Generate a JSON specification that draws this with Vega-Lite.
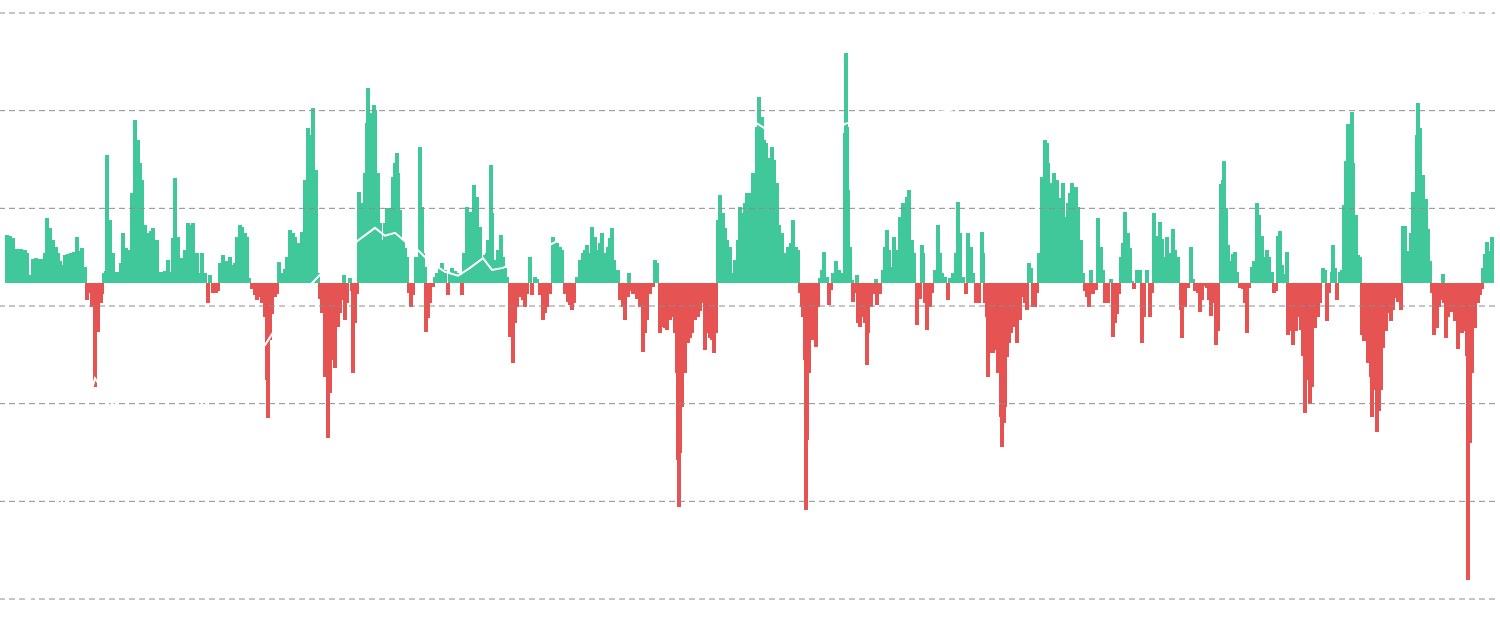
{
  "$schema": "https://vega.github.io/schema/vega-lite/v6.json",
  "width": 1495,
  "height": 633,
  "padding": 0,
  "autosize": {"type": "none"},
  "background": "white",
  "config": {"view": {"stroke": null}},
  "datasets": {
    "flow": [
      {"t":7,"v":48},{"t":10,"v":47},{"t":13,"v":45},{"t":17,"v":34},{"t":21,"v":34},{"t":25,"v":33},{"t":27,"v":30},{"t":29,"v":8},{"t":31,"v":5},{"t":33,"v":24},{"t":36,"v":25},{"t":39,"v":24},{"t":42,"v":24},{"t":45,"v":30},{"t":47,"v":65},{"t":50,"v":55},{"t":53,"v":43},{"t":56,"v":36},{"t":58,"v":30},{"t":60,"v":22},{"t":62,"v":18},{"t":65,"v":28},{"t":68,"v":29},{"t":71,"v":30},{"t":74,"v":31},{"t":77,"v":46},{"t":79,"v":32},{"t":82,"v":35},{"t":85,"v":16},{"t":87,"v":-17},{"t":89,"v":-10},{"t":92,"v":-24},{"t":95,"v":-104},{"t":98,"v":-49},{"t":101,"v":-20},{"t":102,"v":-11},{"t":104,"v":10},{"t":106,"v":12},{"t":107,"v":128},{"t":110,"v":63},{"t":113,"v":30},{"t":116,"v":11},{"t":119,"v":11},{"t":121,"v":20},{"t":123,"v":50},{"t":126,"v":35},{"t":129,"v":33},{"t":132,"v":90},{"t":135,"v":163},{"t":138,"v":143},{"t":140,"v":120},{"t":142,"v":103},{"t":145,"v":58},{"t":148,"v":50},{"t":151,"v":52},{"t":153,"v":55},{"t":157,"v":43},{"t":159,"v":11},{"t":162,"v":11},{"t":165,"v":12},{"t":168,"v":23},{"t":170,"v":11},{"t":173,"v":45},{"t":175,"v":105},{"t":178,"v":46},{"t":182,"v":25},{"t":185,"v":33},{"t":188,"v":60},{"t":191,"v":58},{"t":193,"v":60},{"t":197,"v":30},{"t":200,"v":10},{"t":202,"v":30},{"t":205,"v":10},{"t":208,"v":-20},{"t":210,"v":8},{"t":213,"v":-10},{"t":216,"v":-10},{"t":218,"v":-8},{"t":220,"v":20},{"t":223,"v":28},{"t":226,"v":22},{"t":230,"v":26},{"t":233,"v":18},{"t":235,"v":20},{"t":237,"v":46},{"t":240,"v":58},{"t":242,"v":56},{"t":245,"v":50},{"t":247,"v":46},{"t":249,"v":5},{"t":252,"v":-6},{"t":255,"v":-12},{"t":257,"v":-17},{"t":260,"v":-14},{"t":262,"v":-20},{"t":265,"v":-34},{"t":267,"v":-97},{"t":268,"v":-135},{"t":270,"v":-57},{"t":272,"v":-31},{"t":275,"v":-14},{"t":277,"v":-11},{"t":279,"v":21},{"t":282,"v":10},{"t":285,"v":14},{"t":287,"v":26},{"t":290,"v":53},{"t":293,"v":50},{"t":295,"v":46},{"t":298,"v":40},{"t":302,"v":51},{"t":305,"v":103},{"t":308,"v":155},{"t":310,"v":148},{"t":312,"v":143},{"t":313,"v":175},{"t":316,"v":113},{"t":318,"v":10},{"t":320,"v":-16},{"t":322,"v":-30},{"t":325,"v":-94},{"t":328,"v":-155},{"t":330,"v":-110},{"t":333,"v":-77},{"t":335,"v":-85},{"t":338,"v":-44},{"t":340,"v":-30},{"t":342,"v":-17},{"t":344,"v":8},{"t":345,"v":-37},{"t":347,"v":-20},{"t":350,"v":5},{"t":352,"v":-8},{"t":353,"v":-90},{"t":355,"v":-40},{"t":357,"v":-11},{"t":359,"v":91},{"t":361,"v":80},{"t":363,"v":70},{"t":365,"v":110},{"t":367,"v":160},{"t":368,"v":195},{"t":370,"v":170},{"t":372,"v":146},{"t":374,"v":178},{"t":375,"v":173},{"t":378,"v":110},{"t":380,"v":60},{"t":382,"v":43},{"t":383,"v":36},{"t":385,"v":60},{"t":387,"v":75},{"t":390,"v":75},{"t":393,"v":106},{"t":395,"v":120},{"t":397,"v":130},{"t":398,"v":110},{"t":400,"v":73},{"t":403,"v":43},{"t":405,"v":35},{"t":407,"v":26},{"t":409,"v":-10},{"t":411,"v":-24},{"t":413,"v":-12},{"t":416,"v":26},{"t":418,"v":26},{"t":420,"v":136},{"t":422,"v":76},{"t":423,"v":30},{"t":425,"v":16},{"t":426,"v":-49},{"t":428,"v":-35},{"t":430,"v":-20},{"t":433,"v":-4},{"t":435,"v":6},{"t":437,"v":10},{"t":440,"v":15},{"t":442,"v":20},{"t":445,"v":13},{"t":448,"v":-12},{"t":450,"v":10},{"t":452,"v":15},{"t":455,"v":12},{"t":457,"v":10},{"t":460,"v":8},{"t":462,"v":-12},{"t":464,"v":30},{"t":467,"v":76},{"t":470,"v":71},{"t":472,"v":43},{"t":474,"v":98},{"t":477,"v":86},{"t":480,"v":56},{"t":483,"v":26},{"t":485,"v":28},{"t":487,"v":30},{"t":488,"v":43},{"t":491,"v":118},{"t":492,"v":70},{"t":495,"v":23},{"t":498,"v":33},{"t":501,"v":48},{"t":503,"v":26},{"t":505,"v":15},{"t":507,"v":6},{"t":510,"v":-54},{"t":513,"v":-80},{"t":515,"v":-40},{"t":517,"v":-24},{"t":520,"v":-14},{"t":523,"v":-17},{"t":525,"v":-24},{"t":527,"v":-11},{"t":530,"v":26},{"t":532,"v":-12},{"t":535,"v":6},{"t":537,"v":4},{"t":540,"v":-12},{"t":543,"v":-37},{"t":545,"v":-30},{"t":547,"v":-24},{"t":550,"v":-11},{"t":553,"v":46},{"t":555,"v":42},{"t":557,"v":40},{"t":560,"v":36},{"t":562,"v":33},{"t":565,"v":-11},{"t":568,"v":-19},{"t":570,"v":-22},{"t":572,"v":-27},{"t":574,"v":-20},{"t":577,"v":6},{"t":580,"v":23},{"t":583,"v":30},{"t":585,"v":33},{"t":587,"v":38},{"t":590,"v":30},{"t":592,"v":56},{"t":595,"v":46},{"t":598,"v":33},{"t":600,"v":40},{"t":602,"v":50},{"t":605,"v":30},{"t":608,"v":36},{"t":610,"v":45},{"t":612,"v":55},{"t":614,"v":23},{"t":616,"v":3},{"t":618,"v":13},{"t":620,"v":-17},{"t":623,"v":-24},{"t":625,"v":-37},{"t":628,"v":-14},{"t":629,"v":10},{"t":631,"v":-8},{"t":633,"v":-11},{"t":637,"v":-16},{"t":640,"v":-24},{"t":643,"v":-69},{"t":645,"v":-50},{"t":647,"v":-37},{"t":650,"v":-11},{"t":653,"v":-4},{"t":655,"v":23},{"t":657,"v":20},{"t":660,"v":-50},{"t":663,"v":-44},{"t":665,"v":-45},{"t":667,"v":-47},{"t":670,"v":-37},{"t":673,"v":-34},{"t":675,"v":-50},{"t":677,"v":-90},{"t":678,"v":-177},{"t":679,"v":-224},{"t":680,"v":-170},{"t":682,"v":-124},{"t":685,"v":-90},{"t":688,"v":-60},{"t":690,"v":-55},{"t":692,"v":-50},{"t":695,"v":-37},{"t":698,"v":-34},{"t":700,"v":-28},{"t":702,"v":-20},{"t":705,"v":-67},{"t":708,"v":-50},{"t":710,"v":-55},{"t":712,"v":-57},{"t":714,"v":-70},{"t":716,"v":-50},{"t":718,"v":63},{"t":720,"v":88},{"t":723,"v":70},{"t":725,"v":55},{"t":727,"v":43},{"t":730,"v":36},{"t":732,"v":10},{"t":735,"v":23},{"t":738,"v":43},{"t":740,"v":76},{"t":743,"v":70},{"t":745,"v":80},{"t":747,"v":90},{"t":749,"v":86},{"t":751,"v":90},{"t":753,"v":110},{"t":755,"v":110},{"t":757,"v":156},{"t":759,"v":186},{"t":762,"v":166},{"t":764,"v":143},{"t":766,"v":140},{"t":768,"v":116},{"t":770,"v":125},{"t":772,"v":136},{"t":774,"v":123},{"t":777,"v":100},{"t":779,"v":58},{"t":782,"v":50},{"t":785,"v":30},{"t":788,"v":36},{"t":791,"v":40},{"t":793,"v":63},{"t":796,"v":36},{"t":798,"v":33},{"t":800,"v":-10},{"t":802,"v":-24},{"t":803,"v":-34},{"t":805,"v":-77},{"t":806,"v":-227},{"t":807,"v":-157},{"t":809,"v":-90},{"t":812,"v":-57},{"t":814,"v":-34},{"t":816,"v":-64},{"t":818,"v":-24},{"t":820,"v":5},{"t":822,"v":13},{"t":824,"v":31},{"t":827,"v":6},{"t":829,"v":-22},{"t":831,"v":-7},{"t":833,"v":10},{"t":836,"v":22},{"t":839,"v":13},{"t":842,"v":10},{"t":845,"v":150},{"t":846,"v":230},{"t":847,"v":156},{"t":848,"v":93},{"t":850,"v":36},{"t":852,"v":3},{"t":853,"v":-19},{"t":855,"v":-10},{"t":857,"v":8},{"t":858,"v":-40},{"t":860,"v":-44},{"t":863,"v":-34},{"t":865,"v":-40},{"t":867,"v":-82},{"t":868,"v":-50},{"t":871,"v":-24},{"t":873,"v":-11},{"t":876,"v":4},{"t":877,"v":-22},{"t":880,"v":-11},{"t":883,"v":13},{"t":885,"v":36},{"t":887,"v":53},{"t":889,"v":33},{"t":892,"v":16},{"t":894,"v":46},{"t":897,"v":33},{"t":900,"v":66},{"t":903,"v":80},{"t":905,"v":66},{"t":907,"v":86},{"t":909,"v":93},{"t":912,"v":43},{"t":914,"v":30},{"t":917,"v":-42},{"t":920,"v":-16},{"t":922,"v":38},{"t":923,"v":30},{"t":925,"v":-20},{"t":927,"v":-47},{"t":930,"v":-24},{"t":932,"v":-10},{"t":935,"v":13},{"t":938,"v":58},{"t":940,"v":30},{"t":942,"v":10},{"t":945,"v":6},{"t":948,"v":-17},{"t":950,"v":5},{"t":953,"v":10},{"t":956,"v":30},{"t":958,"v":81},{"t":960,"v":50},{"t":963,"v":6},{"t":966,"v":-11},{"t":968,"v":50},{"t":971,"v":36},{"t":973,"v":10},{"t":976,"v":-20},{"t":979,"v":-20},{"t":982,"v":51},{"t":983,"v":30},{"t":985,"v":-20},{"t":987,"v":-34},{"t":988,"v":-94},{"t":991,"v":-70},{"t":993,"v":-70},{"t":995,"v":-67},{"t":998,"v":-90},{"t":1001,"v":-134},{"t":1002,"v":-164},{"t":1004,"v":-140},{"t":1005,"v":-124},{"t":1007,"v":-74},{"t":1009,"v":-60},{"t":1011,"v":-50},{"t":1014,"v":-44},{"t":1017,"v":-60},{"t":1020,"v":-37},{"t":1023,"v":-14},{"t":1025,"v":-20},{"t":1027,"v":-27},{"t":1029,"v":20},{"t":1031,"v":15},{"t":1033,"v":-24},{"t":1035,"v":-24},{"t":1037,"v":-10},{"t":1039,"v":30},{"t":1042,"v":106},{"t":1045,"v":143},{"t":1047,"v":140},{"t":1048,"v":120},{"t":1050,"v":100},{"t":1052,"v":93},{"t":1054,"v":110},{"t":1057,"v":103},{"t":1059,"v":66},{"t":1061,"v":85},{"t":1063,"v":100},{"t":1065,"v":66},{"t":1068,"v":80},{"t":1070,"v":90},{"t":1072,"v":100},{"t":1074,"v":70},{"t":1076,"v":96},{"t":1078,"v":76},{"t":1081,"v":43},{"t":1083,"v":10},{"t":1085,"v":-8},{"t":1087,"v":-14},{"t":1089,"v":-24},{"t":1091,"v":13},{"t":1093,"v":-11},{"t":1096,"v":-7},{"t":1098,"v":65},{"t":1101,"v":36},{"t":1103,"v":13},{"t":1105,"v":-20},{"t":1108,"v":-20},{"t":1111,"v":4},{"t":1113,"v":-54},{"t":1115,"v":-40},{"t":1117,"v":-31},{"t":1119,"v":-11},{"t":1121,"v":26},{"t":1123,"v":40},{"t":1125,"v":71},{"t":1128,"v":50},{"t":1130,"v":35},{"t":1132,"v":2},{"t":1134,"v":-6},{"t":1137,"v":13},{"t":1140,"v":13},{"t":1142,"v":-60},{"t":1144,"v":-34},{"t":1147,"v":13},{"t":1150,"v":-34},{"t":1152,"v":-10},{"t":1154,"v":70},{"t":1157,"v":47},{"t":1160,"v":61},{"t":1162,"v":44},{"t":1165,"v":26},{"t":1167,"v":46},{"t":1170,"v":30},{"t":1173,"v":54},{"t":1175,"v":33},{"t":1178,"v":26},{"t":1181,"v":-27},{"t":1182,"v":-55},{"t":1185,"v":-24},{"t":1188,"v":-5},{"t":1191,"v":36},{"t":1193,"v":4},{"t":1195,"v":-8},{"t":1198,"v":-10},{"t":1200,"v":-29},{"t":1202,"v":-17},{"t":1205,"v":-3},{"t":1207,"v":-5},{"t":1209,"v":-17},{"t":1211,"v":-33},{"t":1213,"v":-20},{"t":1216,"v":-62},{"t":1218,"v":-48},{"t":1221,"v":99},{"t":1223,"v":103},{"t":1224,"v":122},{"t":1226,"v":75},{"t":1228,"v":38},{"t":1231,"v":22},{"t":1233,"v":29},{"t":1235,"v":31},{"t":1237,"v":11},{"t":1240,"v":-5},{"t":1243,"v":-6},{"t":1245,"v":-20},{"t":1247,"v":-50},{"t":1249,"v":-5},{"t":1252,"v":16},{"t":1254,"v":22},{"t":1257,"v":80},{"t":1259,"v":68},{"t":1262,"v":47},{"t":1264,"v":26},{"t":1267,"v":33},{"t":1269,"v":26},{"t":1272,"v":11},{"t":1274,"v":-10},{"t":1276,"v":-8},{"t":1278,"v":47},{"t":1280,"v":52},{"t":1282,"v":18},{"t":1285,"v":9},{"t":1287,"v":31},{"t":1288,"v":-52},{"t":1291,"v":-48},{"t":1293,"v":-62},{"t":1296,"v":-48},{"t":1298,"v":-34},{"t":1301,"v":-47},{"t":1303,"v":-73},{"t":1305,"v":-130},{"t":1308,"v":-97},{"t":1310,"v":-121},{"t":1312,"v":-104},{"t":1315,"v":-45},{"t":1318,"v":-34},{"t":1320,"v":-20},{"t":1323,"v":15},{"t":1325,"v":13},{"t":1327,"v":-38},{"t":1329,"v":-10},{"t":1332,"v":11},{"t":1333,"v":38},{"t":1335,"v":15},{"t":1337,"v":-17},{"t":1340,"v":11},{"t":1342,"v":13},{"t":1344,"v":78},{"t":1346,"v":122},{"t":1348,"v":159},{"t":1350,"v":150},{"t":1352,"v":171},{"t":1353,"v":120},{"t":1356,"v":68},{"t":1358,"v":28},{"t":1360,"v":26},{"t":1362,"v":-52},{"t":1364,"v":-58},{"t":1367,"v":-38},{"t":1368,"v":-80},{"t":1371,"v":-94},{"t":1372,"v":-134},{"t":1374,"v":-107},{"t":1377,"v":-149},{"t":1379,"v":-128},{"t":1381,"v":-107},{"t":1383,"v":-65},{"t":1386,"v":-48},{"t":1388,"v":-30},{"t":1391,"v":-38},{"t":1393,"v":-27},{"t":1396,"v":-15},{"t":1398,"v":-19},{"t":1401,"v":-27},{"t":1403,"v":57},{"t":1405,"v":57},{"t":1407,"v":32},{"t":1409,"v":13},{"t":1411,"v":50},{"t":1413,"v":91},{"t":1415,"v":75},{"t":1417,"v":148},{"t":1418,"v":180},{"t":1420,"v":155},{"t":1422,"v":89},{"t":1423,"v":108},{"t":1426,"v":84},{"t":1428,"v":54},{"t":1430,"v":22},{"t":1432,"v":-10},{"t":1434,"v":-52},{"t":1437,"v":-45},{"t":1439,"v":-24},{"t":1441,"v":-17},{"t":1443,"v":9},{"t":1444,"v":-20},{"t":1446,"v":-55},{"t":1448,"v":-34},{"t":1450,"v":-24},{"t":1452,"v":-29},{"t":1455,"v":-38},{"t":1458,"v":-66},{"t":1460,"v":-48},{"t":1462,"v":-50},{"t":1465,"v":-48},{"t":1467,"v":-73},{"t":1468,"v":-297},{"t":1470,"v":-160},{"t":1472,"v":-90},{"t":1475,"v":-45},{"t":1478,"v":-20},{"t":1480,"v":-12},{"t":1482,"v":-6},{"t":1483,"v":15},{"t":1485,"v":29},{"t":1487,"v":41},{"t":1488,"v":32},{"t":1490,"v":18},{"t":1492,"v":46}
    ],
    "price": [
      {"t":7,"p":-0.16},{"t":30,"p":0.0},{"t":45,"p":0.4},{"t":62,"p":1.0},{"t":80,"p":1.7},{"t":95,"p":2.26},{"t":104,"p":2.12},{"t":112,"p":2.0},{"t":140,"p":1.8},{"t":170,"p":1.75},{"t":202,"p":2.0},{"t":240,"p":2.55},{"t":265,"p":2.6},{"t":290,"p":3.0},{"t":320,"p":3.32},{"t":358,"p":3.67},{"t":375,"p":3.8},{"t":385,"p":3.72},{"t":395,"p":3.75},{"t":405,"p":3.66},{"t":415,"p":3.6},{"t":430,"p":3.45},{"t":445,"p":3.35},{"t":458,"p":3.31},{"t":470,"p":3.39},{"t":483,"p":3.49},{"t":492,"p":3.37},{"t":503,"p":3.39},{"t":530,"p":3.52},{"t":560,"p":3.68},{"t":590,"p":3.83},{"t":636,"p":3.99},{"t":680,"p":4.39},{"t":710,"p":4.75},{"t":737,"p":5.0},{"t":760,"p":4.85},{"t":790,"p":4.65},{"t":820,"p":4.7},{"t":846,"p":4.87},{"t":880,"p":4.9},{"t":920,"p":4.96},{"t":948,"p":5.0},{"t":1000,"p":5.16},{"t":1050,"p":5.31},{"t":1100,"p":5.47},{"t":1150,"p":5.4},{"t":1200,"p":5.57},{"t":1250,"p":5.52},{"t":1300,"p":5.7},{"t":1340,"p":5.85},{"t":1371,"p":6.0},{"t":1383,"p":6.03},{"t":1393,"p":5.97},{"t":1410,"p":6.05},{"t":1424,"p":5.99},{"t":1440,"p":6.08},{"t":1461,"p":6.0},{"t":1475,"p":5.93},{"t":1492,"p":6.01}
    ],
    "grid": [{"g":0},{"g":1},{"g":2},{"g":3},{"g":4},{"g":5},{"g":6}]
  },
  "layer": [
    {
      "data": {"name": "flow"},
      "mark": {"type": "bar", "size": 4},
      "encoding": {
        "x": {"field": "t", "type": "quantitative", "scale": {"domain": [0, 1495], "nice": false, "zero": false, "padding": 0}, "axis": null},
        "y": {"field": "v", "type": "quantitative", "scale": {"domain": [-350, 283], "nice": false}, "axis": null},
        "color": {"condition": {"test": "datum.v >= 0", "value": "#40c89a"}, "value": "#e55353"}
      }
    },
    {
      "layer": [
        {
          "data": {"name": "grid"},
          "mark": {"type": "rule", "strokeDash": [6, 4], "color": "#8c8c8c", "strokeWidth": 1},
          "encoding": {
            "y": {"field": "g", "type": "quantitative", "scale": {"domain": [-0.348, 6.133], "nice": false, "zero": false}, "axis": null}
          }
        },
        {
          "data": {"name": "price"},
          "mark": {"type": "line", "color": "white", "strokeWidth": 2},
          "encoding": {
            "x": {"field": "t", "type": "quantitative", "axis": null},
            "y": {"field": "p", "type": "quantitative", "axis": null}
          }
        }
      ]
    }
  ],
  "resolve": {"scale": {"y": "independent"}}
}
